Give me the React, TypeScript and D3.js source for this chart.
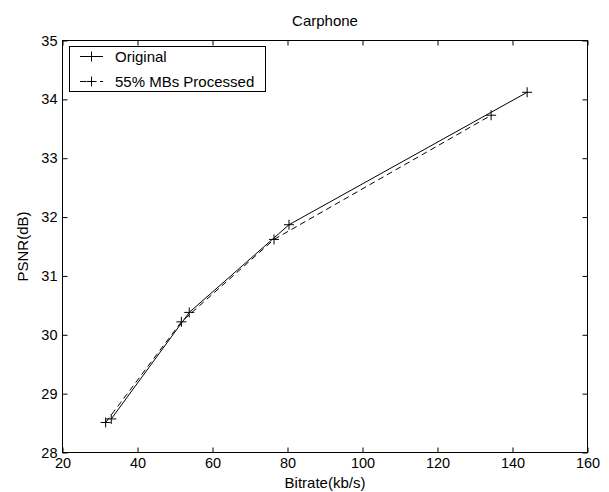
import React, { useEffect, useRef } from "react";
import * as d3 from "d3";

// values
const bitrateOriginal = [33.0, 53.8, 80.4, 143.9];
const psnrOriginal = [28.57, 30.38, 31.87, 34.12];
const bitrateProcessed = [31.5, 51.7, 76.4, 134.3];
const psnrProcessed = [28.51, 30.22, 31.62, 33.73];

const xTicks = [20, 40, 60, 80, 100, 120, 140, 160];
const yTicks = [28, 29, 30, 31, 32, 33, 34, 35];
const seriesNames = ["Original", "55% MBs Processed"];

const FONT = "Arial, 'Liberation Sans', sans-serif";

function App() {
    const chart = useRef<SVGSVGElement>(null);

    useEffect(() => {
        const width = 609;
        const height = 492;
        const left = 62.5, right = 587.5, top = 40.5, bottom = 452.5;
        const svg = d3.select(chart.current)
            .attr("width", width)
            .attr("height", height);

        const x = d3.scaleLinear().domain([20, 160]).range([left, right]);
        const y = d3.scaleLinear().domain([28, 35]).range([bottom, top]);

        const styleAxis = (g: any) => {
            g.select(".domain").remove();
            g.attr("font-size", 14.5).attr("font-family", FONT);
            g.selectAll("line").attr("stroke", "#000");
            g.selectAll("text").attr("fill", "#000");
        };

        svg.append("g")
            .attr("transform", `translate(0,${bottom})`)
            .call(d3.axisBottom(x).tickValues(xTicks).tickFormat(d3.format("d")).tickSizeInner(-5).tickSizeOuter(0).tickPadding(5))
            .call(styleAxis);
        svg.append("g")
            .attr("transform", `translate(0,${top})`)
            .call(d3.axisTop(x).tickValues(xTicks).tickSizeInner(-5).tickSizeOuter(0).tickFormat(() => ""))
            .call(styleAxis);
        svg.append("g")
            .attr("transform", `translate(${left},0)`)
            .call(d3.axisLeft(y).tickValues(yTicks).tickFormat(d3.format("d")).tickSizeInner(-5).tickSizeOuter(0).tickPadding(5))
            .call(styleAxis);
        svg.append("g")
            .attr("transform", `translate(${right},0)`)
            .call(d3.axisRight(y).tickValues(yTicks).tickSizeInner(-5).tickSizeOuter(0).tickFormat(() => ""))
            .call(styleAxis);

        // box around the axes
        svg.append("rect")
            .attr("x", left).attr("y", top)
            .attr("width", right - left).attr("height", bottom - top)
            .attr("fill", "none").attr("stroke", "#000").attr("stroke-width", 1);

        const line = d3.line<[number, number]>()
            .x(d => x(d[0]))
            .y(d => y(d[1]));

        const series = [
            { pts: bitrateOriginal.map((b, i) => [b, psnrOriginal[i]] as [number, number]), dash: null },
            { pts: bitrateProcessed.map((b, i) => [b, psnrProcessed[i]] as [number, number]), dash: "6,4" }
        ];

        const plus = (g: any, cx: number, cy: number) => {
            g.append("path")
                .attr("d", `M${cx - 5},${cy}H${cx + 5}M${cx},${cy - 5}V${cy + 5}`)
                .attr("stroke", "#000").attr("stroke-width", 1).attr("fill", "none");
        };

        series.forEach(s => {
            svg.append("path")
                .attr("d", line(s.pts))
                .attr("fill", "none")
                .attr("stroke", "#000")
                .attr("stroke-width", 1)
                .attr("stroke-dasharray", s.dash);
            s.pts.forEach(p => plus(svg, x(p[0]), y(p[1])));
        });

        // title and axis labels
        svg.append("text")
            .attr("x", (left + right) / 2).attr("y", 26)
            .attr("text-anchor", "middle")
            .attr("font-size", 15).attr("font-family", FONT)
            .text("Carphone");
        svg.append("text")
            .attr("x", (left + right) / 2).attr("y", 488)
            .attr("text-anchor", "middle")
            .attr("font-size", 15).attr("font-family", FONT)
            .text("Bitrate(kb/s)");
        svg.append("text")
            .attr("transform", `translate(28,${(top + bottom) / 2}) rotate(-90)`)
            .attr("text-anchor", "middle")
            .attr("font-size", 15).attr("font-family", FONT)
            .text("PSNR(dB)");

        // legend
        const lg = svg.append("g");
        lg.append("rect")
            .attr("x", 69.5).attr("y", 46.5)
            .attr("width", 196).attr("height", 45)
            .attr("fill", "#fff").attr("stroke", "#000").attr("stroke-width", 1);
        seriesNames.forEach((name, i) => {
            const ly = 56.5 + i * 25;
            lg.append("line")
                .attr("x1", 80).attr("x2", 103)
                .attr("y1", ly).attr("y2", ly)
                .attr("stroke", "#000").attr("stroke-width", 1)
                .attr("stroke-dasharray", series[i].dash);
            plus(lg, 91.5, ly);
            lg.append("text")
                .attr("x", 115).attr("y", ly)
                .attr("dy", "0.35em")
                .attr("font-size", 15).attr("font-family", FONT)
                .text(name);
        });

        return () => {
            svg.selectAll("*").remove();
        };
    }, []);

    return (
        <svg ref={chart} style={{ position: "absolute", left: 0, top: 0, background: "#fff" }}></svg>
    );
}

export default App;
